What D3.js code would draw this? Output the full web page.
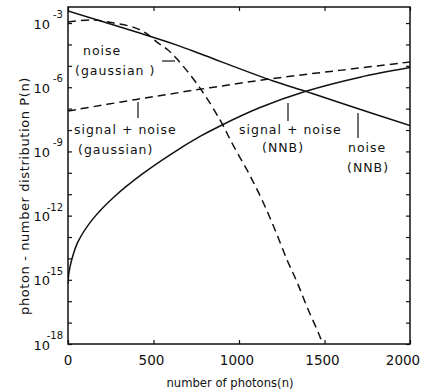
<!DOCTYPE html>
<html>
<head>
<meta charset="utf-8">
<title>photon-number distribution</title>
<script src="https://cdn.jsdelivr.net/npm/d3@7"></script>
<style>
  body { margin: 0; background: #fff; }
  svg { display: block; font-family: "DejaVu Sans", sans-serif; }
  .frame { fill: none; stroke: #111; stroke-width: 1.5px; }
  .curve { fill: none; stroke: #111; stroke-width: 1.5px; }
  .dashed { stroke-dasharray: 8 5; }
  .lbl { font-size: 12.5px; fill: #111; }
  .tick line, .lead { stroke: #111; stroke-width: 1.2px; }
</style>
</head>
<body>
<svg id="chart" width="424" height="391"></svg>
<script>
// x values in photons, y values read as log10 P(n)
const noiseNNB = [[0, -2.44], [400, -3.42], [637, -4.03], [800, -4.52], [1200, -5.71], [1386, -6.18], [1600, -6.75], [2000, -7.79]];
const signalNNB = [[0, -15.20], [6, -14.64], [23, -14.03], [58, -13.23], [140, -12.21], [269, -11.13], [439, -10.03], [608, -9.10], [772, -8.30], [889, -7.81], [1123, -6.95], [1386, -6.20], [1708, -5.53], [2000, -5.08]];
const noiseGauss = [[0, -2.95], [146, -2.86], [269, -3.0], [380, -3.19], [456, -3.47], [520, -3.89], [585, -4.26], [643, -4.73], [772, -6.04], [889, -7.53], [965, -8.70], [1053, -9.96], [1135, -11.27], [1211, -12.67], [1281, -14.07], [1339, -15.10], [1398, -16.27], [1474, -17.67], [1500, -18.3]];
const signalGauss = [[0, -7.11], [400, -6.57], [800, -6.06], [1200, -5.59], [1600, -5.20], [2000, -4.82]];

const xTicks = [0, 500, 1000, 1500, 2000];
const yLabelExps = [-3, -6, -9, -12, -15, -18];
const yTickExps = d3.range(-18, -2);

const svg = d3.select("#chart");
const mLeft = 68, mRight = 410, mTop = 7, mBottom = 344;

const x = d3.scaleLinear().domain([0, 2000]).range([mLeft, mRight]);
const y = d3.scaleLog().domain([1e-18, Math.pow(10, -2.25)]).range([mBottom, mTop]);

svg.append("clipPath").attr("id", "clip")
  .append("rect").attr("x", mLeft).attr("y", mTop).attr("width", mRight - mLeft).attr("height", mBottom - mTop);

// ticks, all pointing inward
const yt = yTickExps.map(e => Math.pow(10, e));
svg.append("g").attr("class", "tick").attr("transform", `translate(${mLeft},0)`)
  .call(d3.axisRight(y).tickValues(yt).tickSize(4).tickFormat(""))
  .select(".domain").remove();
svg.append("g").attr("class", "tick").attr("transform", `translate(${mRight},0)`)
  .call(d3.axisLeft(y).tickValues(yt).tickSize(4).tickFormat(""))
  .select(".domain").remove();
svg.append("g").attr("class", "tick").attr("transform", `translate(0,${mBottom})`)
  .call(d3.axisTop(x).tickValues(xTicks).tickSize(4).tickFormat(""))
  .select(".domain").remove();
svg.append("g").attr("class", "tick").attr("transform", `translate(0,${mTop})`)
  .call(d3.axisBottom(x).tickValues(xTicks).tickSize(4).tickFormat(""))
  .select(".domain").remove();

svg.append("rect").attr("class", "frame")
  .attr("x", mLeft).attr("y", mTop).attr("width", mRight - mLeft).attr("height", mBottom - mTop);

// x tick labels
svg.selectAll(".xl").data(xTicks).enter().append("text")
  .attr("class", "lbl").attr("text-anchor", "middle").style("font-size", "13.5px")
  .attr("x", d => x(d) - (d === 2000 ? 7 : d > 0 ? 2 : 0)).attr("y", 365).text(d => d);

// y tick labels 10^-n
svg.selectAll(".yl").data(yLabelExps).enter().append("text")
  .attr("class", "lbl").attr("text-anchor", "end").style("font-size", "13px")
  .attr("x", 50).attr("y", d => y(Math.pow(10, d)) + 5.5).text("10");
svg.selectAll(".ye").data(yLabelExps).enter().append("text")
  .attr("class", "lbl").attr("text-anchor", "end").style("font-size", "10px")
  .attr("x", 63).attr("y", d => y(Math.pow(10, d)) - 5).text(d => d);

// axis titles
svg.append("text").attr("class", "lbl").attr("text-anchor", "middle")
  .style("font-size", "11.6px")
  .attr("x", 230).attr("y", 387)
  .text("number of photons(n)");
svg.append("text").attr("class", "lbl").attr("text-anchor", "middle")
  .style("font-size", "13px").attr("letter-spacing", "0.6px")
  .attr("transform", "translate(29,196) rotate(-90)")
  .text("photon - number  distribution   P(n)");

// curves
const line = d3.line()
  .x(d => x(d[0])).y(d => y(Math.pow(10, d[1])))
  .curve(d3.curveCatmullRom.alpha(0.5));
const g = svg.append("g").attr("clip-path", "url(#clip)");
g.append("path").attr("class", "curve").attr("d", line(noiseNNB));
g.append("path").attr("class", "curve").attr("d", line(signalNNB));
g.append("path").attr("class", "curve dashed").attr("d", line(noiseGauss));
g.append("path").attr("class", "curve dashed").attr("d", line(signalGauss));

// annotations: [text, x, baseline]
function label(items) {
  items.forEach(d => {
    svg.append("text").attr("class", "lbl").attr("letter-spacing", "1px")
      .attr("x", d[1]).attr("y", d[2]).text(d[0]);
  });
}
function lead(x1, y1, x2, y2) {
  svg.append("line").attr("class", "lead")
    .attr("x1", x1).attr("y1", y1).attr("x2", x2).attr("y2", y2);
}
label([["noise", 83, 55], ["(gaussian )", 75, 75]]);
lead(162, 61, 175, 61);

label([["signal + noise", 74, 134], ["(gaussian)", 78, 154]]);
lead(138, 102, 138, 118);

label([["signal + noise", 239, 134], ["(NNB)", 262, 152]]);
lead(288, 103, 288, 121);

label([["noise", 348, 152], ["(NNB)", 347, 172]]);
lead(358, 113, 358, 138);
</script>
</body>
</html>
